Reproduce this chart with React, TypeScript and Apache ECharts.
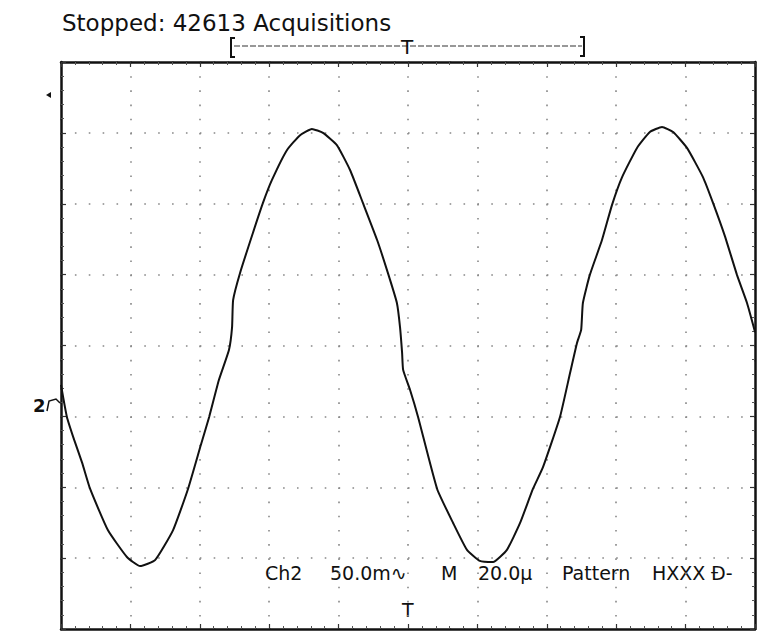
import React, { useEffect, useRef } from "react";
import * as echarts from "echarts";

// time in microseconds (20 µs / div, 10 divisions)
const timeUs = [
  0, 1.7, 3.8, 6.1, 8.4, 13.5, 19.0, 22.8, 27.1, 32.3, 36.6, 40.3, 42.7, 45.5,
  48.4, 49.3, 49.6, 51.6, 55.3, 58.2, 60.8, 65.1, 68.9, 72.3, 75.5, 79.5, 83.3,
  87.0, 91.1, 94.2, 96.8, 97.7, 98.3, 98.6, 100.6, 102.9, 108.4, 113.0, 117.0,
  120.7, 124.5, 128.5, 132.3, 136.0, 138.9, 143.8, 146.7, 148.7, 149.9, 150.4,
  152.4, 155.9, 158.8, 161.7, 166.0, 169.7, 173.2, 176.4, 180.4, 185.0, 187.9,
  191.4, 194.8, 197.7, 200,
];
// voltage in millivolts (50 mV / div, 8 divisions)
const voltageMv = [
  -27.8, -50.4, -66.6, -82.8, -101.2, -130.2, -149.2, -155.6, -151.4, -130.2,
  -101.2, -70.2, -50.4, -24.4, -3.2, 13, 32, 51.2, 79.4, 100.6, 116.8, 137.8,
  148.4, 152.8, 150, 141.4, 123.8, 100.6, 74.4, 51.2, 30, 13, -5.2, -17.2, -31.4,
  -50.4, -101.2, -125.2, -144.2, -152, -152.8, -144.2, -125.2, -101.2, -85.8,
  -50.4, -19.4, 1.8, 11, 30, 49.8, 74.4, 99.2, 118.8, 139.4, 150.6, 154.2, 150.6,
  139.4, 118.8, 100.6, 76.6, 49.8, 30, 9.6,
];

const xTicks = { min: 0, max: 200, interval: 20 };
const yTicks = { min: -200, max: 200, interval: 50 };

const titleText = "Stopped: 42613 Acquisitions";
const statusTexts = ["Ch2", "50.0m\u223F", "M", "20.0\u00B5", "Pattern", "HXXX", "\u00D0-"];
const channelMarker = "2";

const FONT = "'DejaVu Sans', sans-serif";

export default function App() {
  const ref = useRef<HTMLDivElement>(null);

  useEffect(() => {
    if (!ref.current) return;
    const chart = echarts.init(ref.current, undefined, { renderer: "svg" });

    const borderLine = { show: true, onZero: false, lineStyle: { color: "#111", width: 2.5 } };
    const tick = { show: true, inside: true, length: 5, lineStyle: { color: "#333", width: 1.2 } };
    const minor = { show: true, splitNumber: 5, length: 3, lineStyle: { color: "#555", width: 1 } };

    const xBase = {
      type: "value" as const,
      min: xTicks.min,
      max: xTicks.max,
      interval: xTicks.interval,
      axisLine: borderLine,
      axisTick: tick,
      minorTick: minor,
      axisLabel: { show: false },
    };
    const yBase = {
      type: "value" as const,
      min: yTicks.min,
      max: yTicks.max,
      interval: yTicks.interval,
      axisLine: borderLine,
      axisTick: tick,
      minorTick: minor,
      axisLabel: { show: false },
    };

    const statusX = [265, 330, 441, 478, 562, 652, 711];

    chart.setOption({
      animation: false,
      backgroundColor: "#fff",
      grid: { left: 61, top: 62, width: 694, height: 567, show: false },
      xAxis: [
        {
          ...xBase,
          position: "bottom",
          splitLine: { show: true, lineStyle: { color: "#888", width: 1.6, type: [1.6, 12.58] } },
        },
        { ...xBase, position: "top", splitLine: { show: false } },
      ],
      yAxis: [
        {
          ...yBase,
          position: "left",
          splitLine: { show: true, lineStyle: { color: "#888", width: 1.6, type: [1.6, 12.28] } },
        },
        { ...yBase, position: "right", splitLine: { show: false } },
      ],
      series: [
        {
          type: "line",
          xAxisIndex: 0,
          yAxisIndex: 0,
          data: timeUs.map((t, i) => [t, voltageMv[i]]),
          symbol: "none",
          smooth: 0.15,
          lineStyle: { color: "#111", width: 2 },
          silent: true,
        },
      ],
      graphic: [
        {
          type: "text",
          left: 62,
          top: 11,
          style: { text: titleText, font: `23px ${FONT}`, fill: "#111" },
        },
        {
          type: "polyline",
          shape: { points: [[235, 38], [231, 38], [231, 57], [235, 57]] },
          style: { stroke: "#111", lineWidth: 2, fill: "none" },
        },
        {
          type: "polyline",
          shape: { points: [[580, 37], [584, 37], [584, 56], [580, 56]] },
          style: { stroke: "#111", lineWidth: 2, fill: "none" },
        },
        {
          type: "line",
          shape: { x1: 234, y1: 46, x2: 582, y2: 46 },
          style: { stroke: "#333", lineWidth: 1.2, lineDash: [6, 2] },
        },
        {
          type: "text",
          left: 401,
          top: 37,
          style: { text: "T", font: `20px ${FONT}`, fill: "#111" },
        },
        ...statusTexts.map((s, i) => ({
          type: "text",
          left: statusX[i],
          top: 563,
          style: { text: s, font: `19px ${FONT}`, fill: "#111" },
        })),
        {
          type: "text",
          left: 402,
          top: 600,
          style: { text: "T", font: `19px ${FONT}`, fill: "#111" },
        },
        {
          type: "text",
          left: 33,
          top: 396,
          style: { text: channelMarker, font: `bold 18px ${FONT}`, fill: "#111" },
        },
        {
          type: "polyline",
          shape: { points: [[47, 411], [49, 401], [56, 399], [60, 403]] },
          style: { stroke: "#111", lineWidth: 1.5, fill: "none" },
        },
        {
          type: "polygon",
          shape: { points: [[46, 95], [51, 92], [51, 98]] },
          style: { fill: "#111" },
        },
      ],
    });

    return () => chart.dispose();
  }, []);

  return (
    <div
      ref={ref}
      style={{ position: "absolute", left: 0, top: 0, width: 768, height: 636, background: "#fff" }}
    />
  );
}
